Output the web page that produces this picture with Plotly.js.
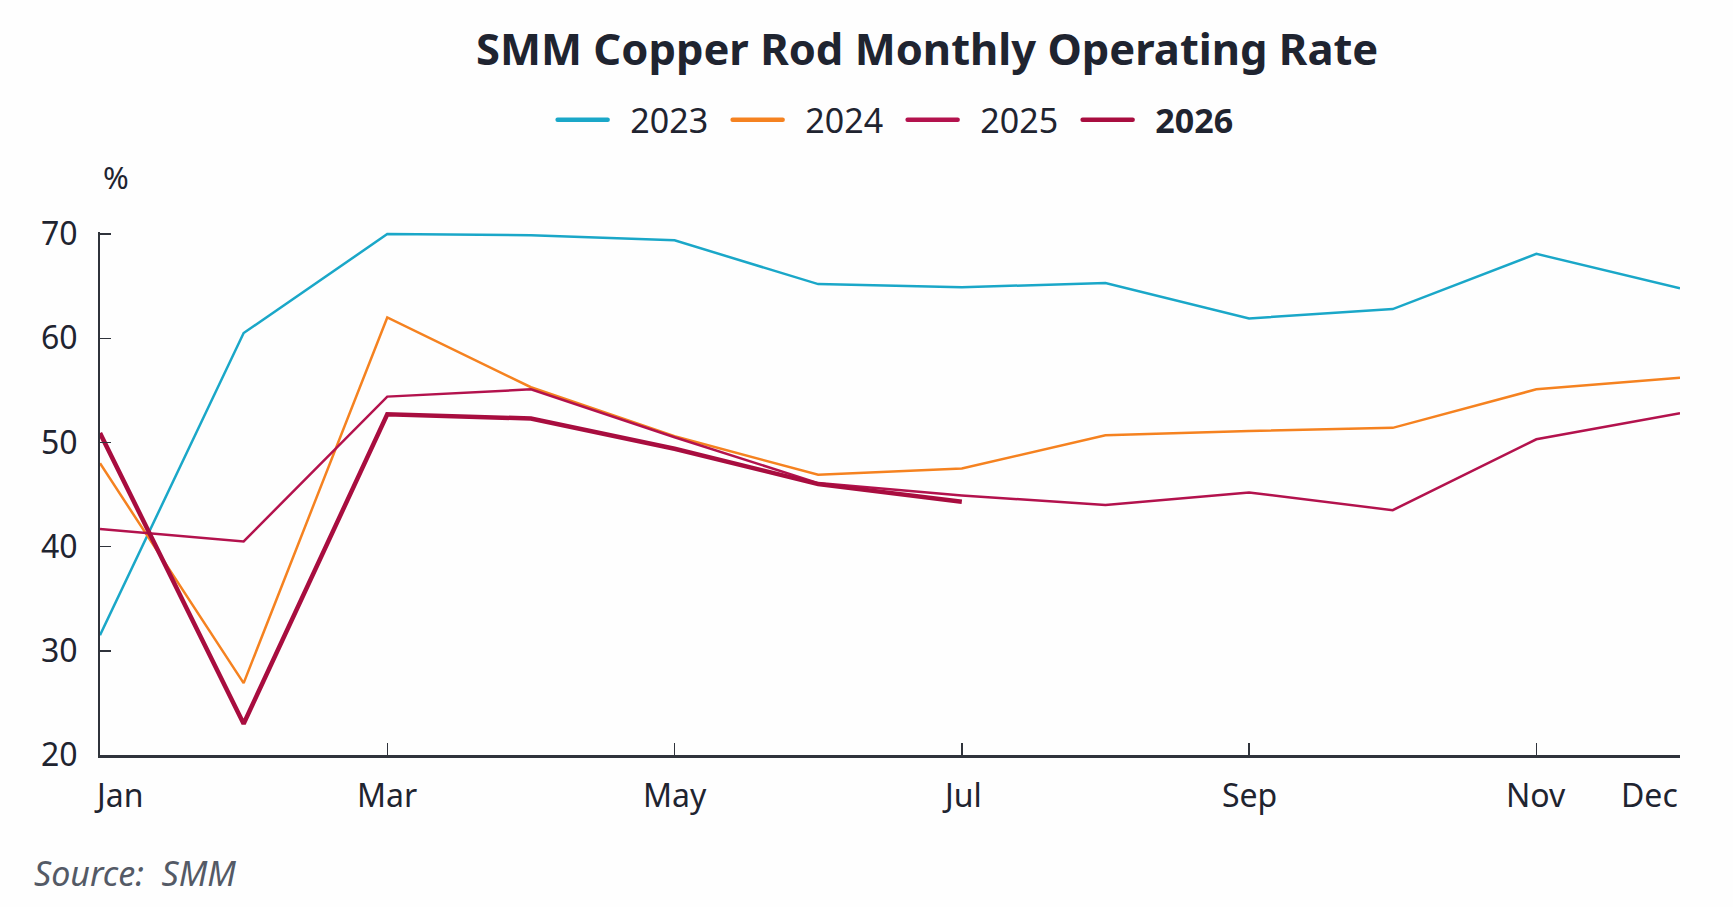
<!DOCTYPE html>
<html>
<head>
<meta charset="utf-8">
<script src="https://cdn.plot.ly/plotly-3.0.1.min.js"></script>
<style>
  html, body { margin: 0; padding: 0; background: #fefefe; }
  #chart { width: 1733px; height: 907px; }
</style>
</head>
<body>
<div id="chart"></div>
<script>
// months on the x axis and the ones that get a label
const months = ['Jan', 'Feb', 'Mar', 'Apr', 'May', 'Jun', 'Jul', 'Aug', 'Sep', 'Oct', 'Nov', 'Dec'];
const labelMonths = ['Jan', 'Mar', 'May', 'Jul', 'Sep', 'Nov', 'Dec'];

// operating rate, %
const rate2023 = [31.5, 60.5, 70.0, 69.9, 69.4, 65.2, 64.9, 65.3, 61.9, 62.8, 68.1, 64.8];
const rate2024 = [48.0, 26.9, 62.0, 55.3, 50.6, 46.9, 47.5, 50.7, 51.1, 51.4, 55.1, 56.2];
const rate2025 = [41.7, 40.5, 54.4, 55.1, 50.5, 46.1, 44.9, 44.0, 45.2, 43.5, 50.3, 52.8];
const rate2026 = [50.9, 23.0, 52.7, 52.3, 49.4, 46.0, 44.3];

const yTicks = [20, 30, 40, 50, 60, 70];

const font = 'Noto Sans, Open Sans, sans-serif';
const ink = '#1f2430';
const gap = '\u00a0\u00a0';   // small space between legend line and its text

const series = [
    { name: gap + '2023', y: rate2023, color: '#1aa7c8', width: 2.5 },
    { name: gap + '2024', y: rate2024, color: '#f58220', width: 2.5 },
    { name: gap + '2025', y: rate2025, color: '#b3124d', width: 2.5 },
    { name: gap + '<b>2026</b>', y: rate2026, color: '#a80d3f', width: 4.5 },
];

const traces = series.map(s => ({
    x: months.slice(0, s.y.length),
    y: s.y,
    name: s.name,
    type: 'scatter',
    mode: 'lines',
    line: { color: s.color, width: s.width },
    hoverinfo: 'skip',
}));

// month labels: Jan hugs the left edge, Dec the right edge
const monthLabels = labelMonths.map(m => ({
    x: m,
    xref: 'x',
    y: 0,
    yref: 'paper',
    yanchor: 'top',
    yshift: -16,
    xanchor: m === 'Jan' ? 'left' : (m === 'Dec' ? 'right' : 'center'),
    xshift: m === 'Jan' ? -8 : 0,
    text: m,
    showarrow: false,
    font: { family: font, size: 32, color: ink },
}));

const layout = {
    width: 1733,
    height: 907,
    paper_bgcolor: '#fefefe',
    plot_bgcolor: '#fefefe',
    margin: { l: 100, r: 53, t: 232, b: 152 },
    title: {
        text: '<b>SMM Copper Rod Monthly Operating Rate</b>',
        font: { family: font, size: 43.5, color: ink },
        x: 0.535,
        xanchor: 'center',
        y: 0.945,
        yanchor: 'middle',
    },
    showlegend: true,
    legend: {
        orientation: 'h',
        x: 0.508,
        xanchor: 'center',
        y: 1.214,
        yanchor: 'middle',
        font: { family: font, size: 34, color: ink },
        itemwidth: 50,
        entrywidth: 110,
        entrywidthmode: 'pixels',
        traceorder: 'normal',
    },
    xaxis: {
        type: 'category',
        categoryorder: 'array',
        categoryarray: months,
        range: [0, 11],
        showgrid: false,
        zeroline: false,
        showline: true,
        linecolor: '#2f333b',
        linewidth: 3,
        ticks: 'inside',
        ticklen: 12,
        tickwidth: 1.5,
        tickcolor: '#2f333b',
        tickvals: labelMonths,
        showticklabels: false,
        fixedrange: true,
    },
    yaxis: {
        range: [20, 70.2],
        showgrid: false,
        zeroline: false,
        showline: true,
        linecolor: '#2f333b',
        linewidth: 2,
        ticks: 'inside',
        ticklen: 11,
        tickwidth: 1.5,
        tickcolor: '#2f333b',
        tickvals: yTicks,
        ticklabelstandoff: 14,
        tickfont: { family: font, size: 32, color: ink },
        fixedrange: true,
    },
    annotations: monthLabels.concat([
        {
            text: '%',
            xref: 'paper', x: 0, xanchor: 'center', xshift: 16,
            yref: 'paper', y: 1, yanchor: 'middle', yshift: 55,
            showarrow: false,
            font: { family: font, size: 31, color: ink },
        },
        {
            text: '<i>Source:  SMM</i>',
            xref: 'paper', x: 0, xanchor: 'left', xshift: -68,
            yref: 'paper', y: 0, yanchor: 'middle', yshift: -118,
            showarrow: false,
            font: { family: font, size: 34, color: '#545a66' },
        },
    ]),
};

Plotly.newPlot('chart', traces, layout, { displayModeBar: false, staticPlot: true }).then(gd => {
    // legend swatches are drawn a bit thicker than the plot lines
    gd.querySelectorAll('.legend .js-line').forEach(p => {
        p.style.strokeWidth = '4.5px';
        p.style.strokeLinecap = 'round';
    });
});
</script>
</body>
</html>
